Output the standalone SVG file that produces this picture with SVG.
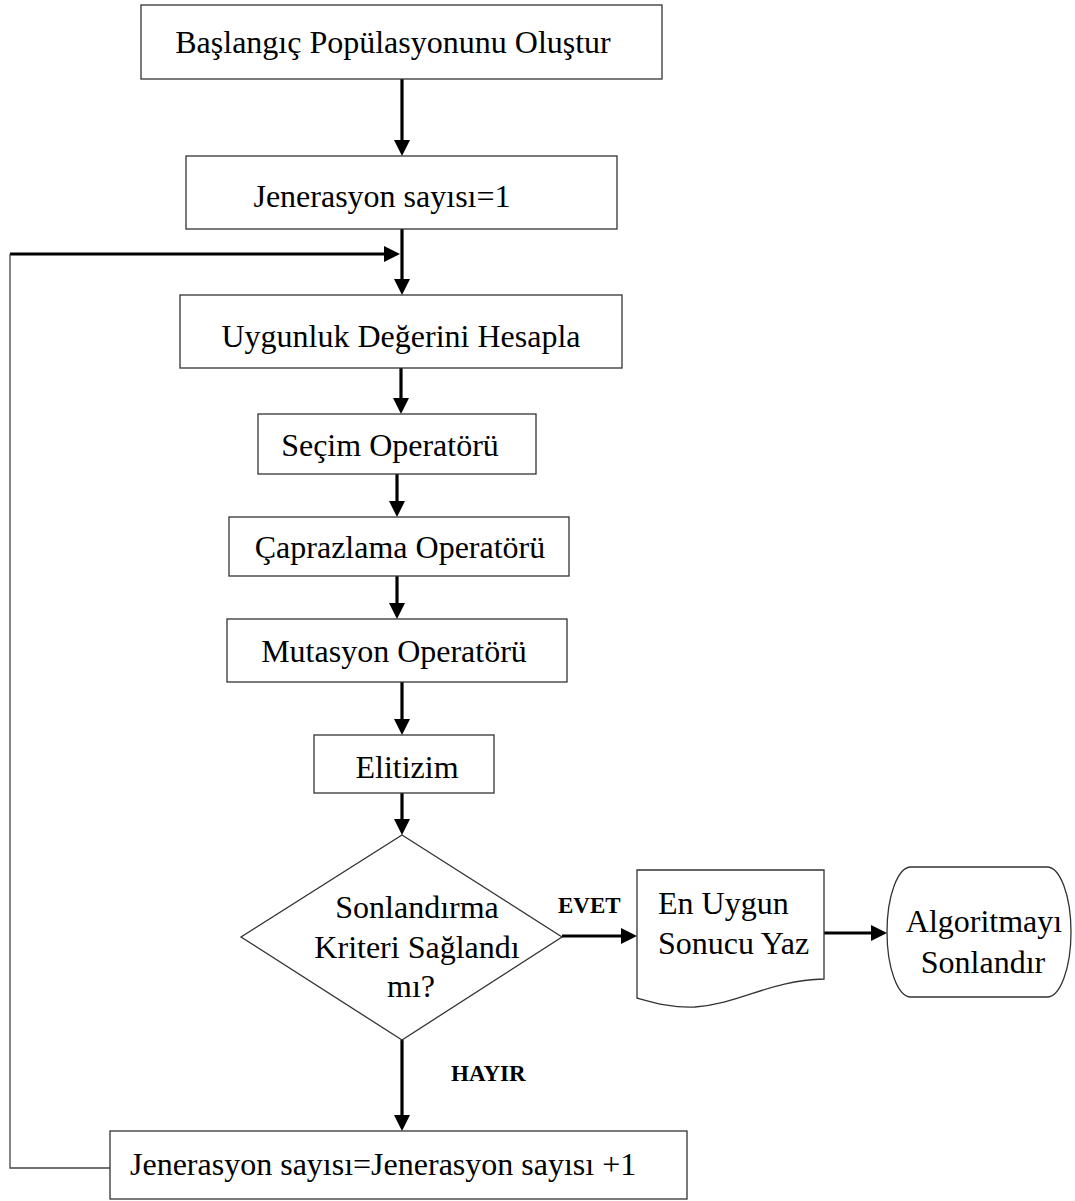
<svg xmlns="http://www.w3.org/2000/svg" width="1075" height="1201" viewBox="0 0 1075 1201">
<defs>
<style>
.box{fill:#fff;stroke:#333;stroke-width:1.3}
.t{font-family:"Liberation Serif","Times New Roman",serif;font-size:32px;fill:#000}
.c{text-anchor:middle}
.b{font-family:"Liberation Serif","Times New Roman",serif;font-size:23px;font-weight:bold;fill:#000}
.ln{stroke:#000;stroke-width:3.2;fill:none}
.thin{stroke:#444;stroke-width:1.3;fill:none}
</style>
<marker id="ah" viewBox="0 0 16 16" refX="6" refY="8" markerWidth="16" markerHeight="16" markerUnits="userSpaceOnUse" orient="auto">
<path d="M0,0 L16,8 L0,16 Z" fill="#000"/>
</marker>
</defs>
<rect width="1075" height="1201" fill="#fff"/>

<g id="connectors">
<line class="ln" x1="402" y1="79" x2="402" y2="146" marker-end="url(#ah)"/>
<line class="ln" x1="402" y1="229" x2="402" y2="285" marker-end="url(#ah)"/>
<line class="ln" x1="10" y1="254" x2="390" y2="254" marker-end="url(#ah)"/>
<line class="ln" x1="401" y1="368" x2="401" y2="404" marker-end="url(#ah)"/>
<line class="ln" x1="397" y1="474" x2="397" y2="507" marker-end="url(#ah)"/>
<line class="ln" x1="397" y1="576" x2="397" y2="609" marker-end="url(#ah)"/>
<line class="ln" x1="402" y1="682" x2="402" y2="725" marker-end="url(#ah)"/>
<line class="ln" x1="402" y1="793" x2="402" y2="825" marker-end="url(#ah)"/>
<line class="ln" x1="562" y1="936" x2="627" y2="936" marker-end="url(#ah)"/>
<line class="ln" x1="824" y1="933" x2="877" y2="933" marker-end="url(#ah)"/>
<line class="ln" x1="402" y1="1040" x2="402" y2="1121" marker-end="url(#ah)"/>
<path class="thin" d="M10,254 V1168 H110"/>
<text class="b" x="558" y="913">EVET</text>
<text class="b" x="451" y="1081">HAYIR</text>
</g>

<g id="n1">
<rect class="box" x="141" y="5" width="521" height="74"/>
<text class="t c" x="393" y="53">Başlangıç Popülasyonunu Oluştur</text>
</g>
<g id="n2">
<rect class="box" x="186" y="156" width="431" height="73"/>
<text class="t c" x="382" y="207">Jenerasyon sayısı=1</text>
</g>
<g id="n3">
<rect class="box" x="180" y="295" width="442" height="73"/>
<text class="t c" x="401" y="347">Uygunluk Değerini Hesapla</text>
</g>
<g id="n4">
<rect class="box" x="258" y="414" width="278" height="60"/>
<text class="t c" x="390" y="456">Seçim Operatörü</text>
</g>
<g id="n5">
<rect class="box" x="229" y="517" width="340" height="59"/>
<text class="t c" x="400" y="558">Çaprazlama Operatörü</text>
</g>
<g id="n6">
<rect class="box" x="227" y="619" width="340" height="63"/>
<text class="t c" x="394" y="662">Mutasyon Operatörü</text>
</g>
<g id="n7">
<rect class="box" x="314" y="735" width="180" height="58"/>
<text class="t c" x="407" y="778">Elitizim</text>
</g>
<g id="n8">
<polygon class="box" points="402,835 562,937 402,1040 241,937"/>
<text class="t c" x="417" y="918">Sonlandırma</text>
<text class="t c" x="417" y="958">Kriteri Sağlandı</text>
<text class="t c" x="411" y="997">mı?</text>
</g>
<g id="n9">
<path class="box" d="M637,870 H824 V979 C770,980 740,1004 695,1007 C672,1008 655,1003 637,998 Z"/>
<text class="t" x="658" y="914">En Uygun</text>
<text class="t" x="658" y="954">Sonucu Yaz</text>
</g>
<g id="n10">
<rect class="box" x="887" y="867" width="184" height="130" rx="24" ry="65"/>
<text class="t c" x="984" y="932">Algoritmayı</text>
<text class="t c" x="983" y="973">Sonlandır</text>
</g>
<g id="n11">
<rect class="box" x="110" y="1131" width="577" height="68"/>
<text class="t" x="130" y="1175">Jenerasyon sayısı=Jenerasyon sayısı +1</text>
</g>
</svg>
